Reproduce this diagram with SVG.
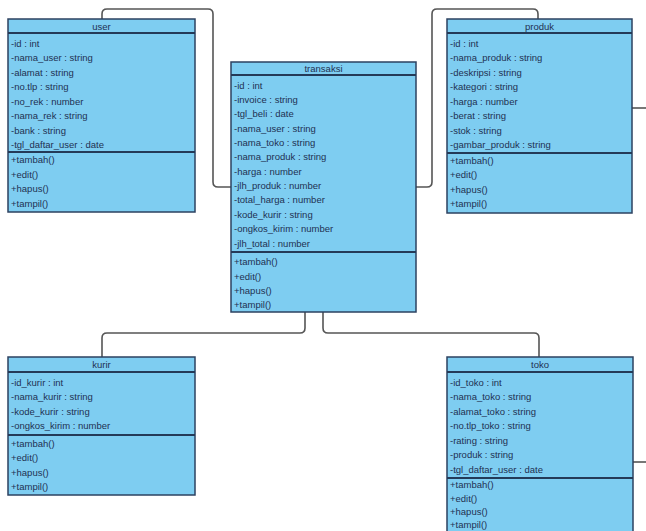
<svg xmlns="http://www.w3.org/2000/svg" width="646" height="531" viewBox="0 0 646 531">
<style>
.box{fill:#7ecdf1;stroke:#2d4260;stroke-width:1.5}
.sep{stroke:#243a58;stroke-width:2}
.t{font-family:"Liberation Sans",Arial,sans-serif;font-size:9.5px;fill:#1f3152}
.h{font-family:"Liberation Sans",Arial,sans-serif;font-size:9.5px;fill:#1f3152;text-anchor:middle}
.c{fill:none;stroke:#555;stroke-width:1.6}
</style>
<rect width="646" height="531" fill="#fff"/>
<g id="connectors">
<path class="c" d="M102,19 V14 Q102,9 107,9 H208 Q213,9 213,14 V182 Q213,187 218,187 H231"/>
<path class="c" d="M538,19 V14 Q538,9 533,9 H437 Q432,9 432,14 V182 Q432,187 427,187 H416"/>
<path class="c" d="M102,357 V338 Q102,333 107,333 H300 Q305,333 305,328 V312"/>
<path class="c" d="M539,357 V338 Q539,333 534,333 H328 Q323,333 323,328 V312"/>
<path class="c" d="M632,108 H646"/>
<path class="c" d="M633,462 H646"/>
</g>
<g id="user">
<rect class="box" x="8" y="19" width="187" height="193"/>
<line class="sep" x1="8" y1="33" x2="195" y2="33"/>
<line class="sep" x1="8" y1="152" x2="195" y2="152"/>
<text class="h" x="101.5" y="30">user</text>
<text class="t" x="11" y="46.5">-id : int</text>
<text class="t" x="11" y="61">-nama_user : string</text>
<text class="t" x="11" y="75.5">-alamat : string</text>
<text class="t" x="11" y="90">-no.tlp : string</text>
<text class="t" x="11" y="104.5">-no_rek : number</text>
<text class="t" x="11" y="119">-nama_rek : string</text>
<text class="t" x="11" y="133.5">-bank : string</text>
<text class="t" x="11" y="148">-tgl_daftar_user : date</text>
<text class="t" x="11" y="163">+tambah()</text>
<text class="t" x="11" y="177.5">+edit()</text>
<text class="t" x="11" y="192">+hapus()</text>
<text class="t" x="11" y="206.5">+tampil()</text>
</g>
<g id="transaksi">
<rect class="box" x="231" y="62" width="185" height="250"/>
<line class="sep" x1="231" y1="75" x2="416" y2="75"/>
<line class="sep" x1="231" y1="252" x2="416" y2="252"/>
<text class="h" x="323.5" y="72">transaksi</text>
<text class="t" x="234" y="88.5">-id : int</text>
<text class="t" x="234" y="102.9">-invoice : string</text>
<text class="t" x="234" y="117.2">-tgl_beli : date</text>
<text class="t" x="234" y="131.6">-nama_user : string</text>
<text class="t" x="234" y="145.9">-nama_toko : string</text>
<text class="t" x="234" y="160.3">-nama_produk : string</text>
<text class="t" x="234" y="174.7">-harga : number</text>
<text class="t" x="234" y="189">-jlh_produk : number</text>
<text class="t" x="234" y="203.4">-total_harga : number</text>
<text class="t" x="234" y="217.7">-kode_kurir : string</text>
<text class="t" x="234" y="232.1">-ongkos_kirim : number</text>
<text class="t" x="234" y="246.5">-jlh_total : number</text>
<text class="t" x="234" y="265">+tambah()</text>
<text class="t" x="234" y="279.5">+edit()</text>
<text class="t" x="234" y="294">+hapus()</text>
<text class="t" x="234" y="308">+tampil()</text>
</g>
<g id="produk">
<rect class="box" x="447" y="19" width="185" height="194"/>
<line class="sep" x1="447" y1="33" x2="632" y2="33"/>
<line class="sep" x1="447" y1="153" x2="632" y2="153"/>
<text class="h" x="539.5" y="30">produk</text>
<text class="t" x="450" y="46.5">-id : int</text>
<text class="t" x="450" y="61">-nama_produk : string</text>
<text class="t" x="450" y="75.5">-deskripsi : string</text>
<text class="t" x="450" y="90">-kategori : string</text>
<text class="t" x="450" y="104.5">-harga : number</text>
<text class="t" x="450" y="119">-berat : string</text>
<text class="t" x="450" y="133.5">-stok : string</text>
<text class="t" x="450" y="148">-gambar_produk : string</text>
<text class="t" x="450" y="163.5">+tambah()</text>
<text class="t" x="450" y="178">+edit()</text>
<text class="t" x="450" y="192.5">+hapus()</text>
<text class="t" x="450" y="207">+tampil()</text>
</g>
<g id="kurir">
<rect class="box" x="8" y="357" width="187" height="138"/>
<line class="sep" x1="8" y1="372" x2="195" y2="372"/>
<line class="sep" x1="8" y1="435" x2="195" y2="435"/>
<text class="h" x="101.5" y="368">kurir</text>
<text class="t" x="11" y="385.5">-id_kurir : int</text>
<text class="t" x="11" y="400">-nama_kurir : string</text>
<text class="t" x="11" y="414.5">-kode_kurir : string</text>
<text class="t" x="11" y="429">-ongkos_kirim : number</text>
<text class="t" x="11" y="446.5">+tambah()</text>
<text class="t" x="11" y="461">+edit()</text>
<text class="t" x="11" y="475.5">+hapus()</text>
<text class="t" x="11" y="490">+tampil()</text>
</g>
<g id="toko">
<rect class="box" x="447" y="357" width="186" height="180"/>
<line class="sep" x1="447" y1="372" x2="633" y2="372"/>
<line class="sep" x1="447" y1="478" x2="633" y2="478"/>
<text class="h" x="540" y="368">toko</text>
<text class="t" x="450" y="385.5">-id_toko : int</text>
<text class="t" x="450" y="400">-nama_toko : string</text>
<text class="t" x="450" y="414.5">-alamat_toko : string</text>
<text class="t" x="450" y="429">-no.tlp_toko : string</text>
<text class="t" x="450" y="443.5">-rating : string</text>
<text class="t" x="450" y="458">-produk : string</text>
<text class="t" x="450" y="472.5">-tgl_daftar_user : date</text>
<text class="t" x="450" y="487.5">+tambah()</text>
<text class="t" x="450" y="501.5">+edit()</text>
<text class="t" x="450" y="515">+hapus()</text>
<text class="t" x="450" y="528">+tampil()</text>
</g>
</svg>
